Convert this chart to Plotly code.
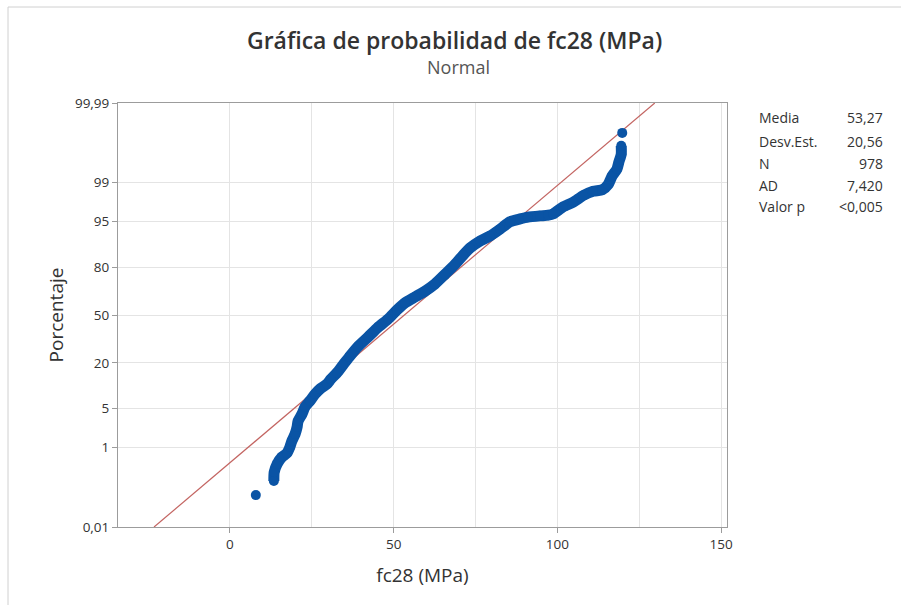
import plotly.graph_objects as go
from statistics import NormalDist

# ---- data ----
fc28 = [7.9, 13.4, 13.5, 14.4, 15.9, 17.4, 18.3, 18.9, 19.9, 20.5, 20.8, 22.0, 22.9,
        24.4, 26.0, 27.5, 29.6, 30.8, 32.7, 34.5, 36.4, 39.1, 42.2, 45.2, 48.3, 51.0,
        53.5, 56.5, 59.6, 62.6, 65.7, 68.7, 71.2, 73.3, 76.4, 79.4, 82.5, 85.5, 88.6,
        91.0, 94.7, 97.2, 98.7, 101.7, 104.8, 107.9, 110.9, 113.7, 115.5, 116.7, 118.2,
        118.8, 119.5, 119.5, 119.8]
porcentaje = [0.079, 0.18, 0.29, 0.45, 0.64, 0.77, 1.03, 1.35, 1.84, 2.47, 3.14, 4.12,
              5.33, 6.57, 8.29, 9.71, 11.3, 13.0, 15.6, 19.0, 23.0, 29.0, 35.0, 41.4,
              47.2, 53.5, 58.5, 62.4, 66.3, 70.7, 76.3, 81.2, 85.3, 88.0, 90.3, 91.7,
              93.4, 94.9, 95.4, 95.7, 95.9, 96.0, 96.2, 97.1, 97.6, 98.2, 98.5, 98.6,
              98.9, 99.26, 99.48, 99.64, 99.76, 99.85, 99.93]

y_ticks = [0.01, 1, 5, 20, 50, 80, 95, 99, 99.99]
y_tick_labels = ["0,01", "1", "5", "20", "50", "80", "95", "99", "99,99"]
x_ticks = [0, 50, 100, 150]
x_minor_grid = [25, 75, 125]

media = 53.27
desv = 20.56
stat_labels = ["Media", "Desv.Est.", "N", "AD", "Valor p"]
stat_values = ["53,27", "20,56", "978", "7,420", "<0,005"]

nd = NormalDist()
def probit(p):
    return nd.inv_cdf(p / 100.0)

zs = [probit(p) for p in porcentaje]
z_lo, z_hi = probit(0.01), probit(99.99)

BLUE = "#0a54a5"
RED = "#c36461"
FONT = "Open Sans"
TXT = "#333333"

fig = go.Figure()

# fitted normal line
fig.add_trace(go.Scatter(
    x=[media + z_lo * desv, media + z_hi * desv], y=[z_lo, z_hi],
    mode="lines", line=dict(color=RED, width=1.2), hoverinfo="skip"))

# dense overlapping points drawn as a thick band
fig.add_trace(go.Scatter(
    x=fc28[1:54], y=zs[1:54], mode="lines",
    line=dict(color=BLUE, width=11, shape="spline", smoothing=0.6), hoverinfo="skip"))

fig.add_trace(go.Scatter(
    x=fc28, y=zs, mode="markers",
    marker=dict(color=BLUE, size=10, line=dict(width=0))))

grid = "#e4e4e4"
axline = "#9c9c9c"

fig.update_xaxes(
    range=[-34.2, 151.8], tickvals=x_ticks, ticktext=[str(v) for v in x_ticks],
    showgrid=True, gridcolor=grid, gridwidth=1,
    minor=dict(tickvals=x_minor_grid, showgrid=True, gridcolor=grid, ticks=""),
    showline=True, linecolor=axline, mirror=True, linewidth=1,
    ticks="outside", ticklen=5, tickcolor=axline,
    tickfont=dict(family=FONT, size=13.5, color=TXT),
    title=dict(text="fc28 (MPa)", font=dict(family=FONT, size=19, color=TXT), standoff=16),
    zeroline=False)

fig.update_yaxes(
    range=[z_lo, z_hi], tickvals=[probit(v) for v in y_ticks], ticktext=y_tick_labels,
    showgrid=True, gridcolor=grid, gridwidth=1,
    showline=True, linecolor=axline, mirror=True, linewidth=1,
    ticks="outside", ticklen=5, tickcolor=axline,
    tickfont=dict(family=FONT, size=13.5, color=TXT),
    title=dict(text="Porcentaje", font=dict(family=FONT, size=19, color=TXT), standoff=6),
    zeroline=False)

L, R, T, B = 118, 174, 103, 78
W, H = 901, 605
pw, ph = W - L - R, H - T - B

def px_x(px):
    return (px - L) / pw

def px_y(py):
    return (H - B - py) / ph

ann = [
    dict(text="Gráfica de probabilidad de fc28 (MPa)", x=px_x(454), y=px_y(40),
         font=dict(family=FONT, size=23, color=TXT, weight=600)),
    dict(text="Normal", x=px_x(458), y=px_y(67),
         font=dict(family=FONT, size=18, color="#555555")),
]
rows_y = [118, 141, 163, 185, 207]
for lab, val, ry in zip(stat_labels, stat_values, rows_y):
    ann.append(dict(text=lab, x=px_x(757), y=px_y(ry), xanchor="left",
                    font=dict(family=FONT, size=14, color=TXT)))
    ann.append(dict(text=val, x=px_x(885), y=px_y(ry), xanchor="right",
                    font=dict(family=FONT, size=14, color=TXT)))
for a in ann:
    a.setdefault("xanchor", "center")
    a.update(xref="paper", yref="paper", yanchor="middle", showarrow=False)

fig.update_layout(
    width=W, height=H, margin=dict(l=L, r=R, t=T, b=B),
    paper_bgcolor="white", plot_bgcolor="white",
    showlegend=False, annotations=ann,
    shapes=[
        dict(type="line", xref="paper", yref="paper", x0=px_x(8), x1=px_x(8),
             y0=px_y(7), y1=px_y(605), line=dict(color="#d0d0d0", width=1)),
        dict(type="line", xref="paper", yref="paper", x0=px_x(8), x1=px_x(901),
             y0=px_y(7), y1=px_y(7), line=dict(color="#d0d0d0", width=1)),
    ],
)

fig.write_html("out.html")
